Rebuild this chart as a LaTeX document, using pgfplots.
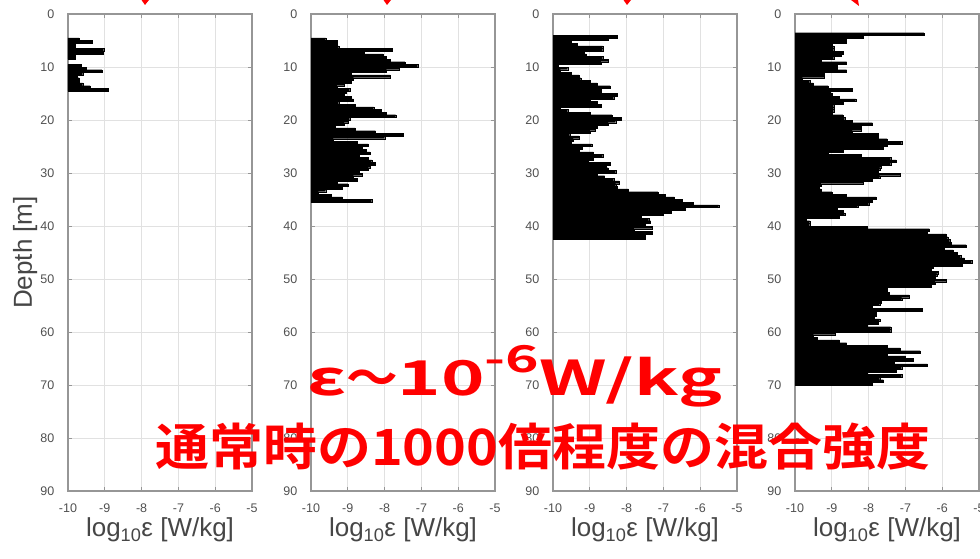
\documentclass[border=0pt]{standalone}
\usepackage{pgfplots}
\usepackage{pgfplotstable}
\pgfplotsset{compat=1.18}
\usepackage{fontspec}
\usepackage{graphicx}
\setmainfont{Liberation Sans}
\newfontfamily\jpfont{Noto Sans CJK JP}[BoldFont={Noto Sans CJK JP Bold}]
\definecolor{gridc}{RGB}{225,225,225}
\definecolor{axc}{RGB}{150,150,150}
\definecolor{tickc}{RGB}{80,80,80}
\definecolor{labc}{RGB}{70,70,70}
\definecolor{redc}{RGB}{255,0,0}

\pgfplotstableread{
d e
4.75 -9.7
5.25 -9.35
5.75 -9.8
6.25 -9.8
6.75 -9.03
7.25 -9.05
7.75 -9.8
8.25 -9.8
9.75 -9.65
10.25 -9.5
10.75 -9.08
11.25 -9.6
11.75 -9.75
12.25 -9.7
12.75 -9.7
13.25 -9.6
13.75 -9.4
14.25 -8.9
}\dataA

\pgfplotstableread{
d e
4.75 -9.6
5.25 -9.3
5.75 -9.3
6.25 -9.25
6.75 -7.8
7.25 -8.55
7.75 -8.05
8.25 -7.95
8.75 -7.85
9.25 -7.45
9.75 -7.1
10.25 -7.6
10.75 -7.95
11.25 -8.9
11.75 -7.85
12.25 -8.85
12.75 -8.9
13.25 -9.1
13.75 -9.3
14.25 -8.95
14.75 -9.05
15.25 -9.1
15.75 -8.9
16.25 -8.85
16.75 -9.25
17.25 -8.8
17.75 -8.3
18.25 -8.1
18.75 -7.95
19.25 -7.7
19.75 -8.95
20.25 -9.0
20.75 -9.1
21.25 -9.35
21.75 -8.8
22.25 -8.25
22.75 -7.5
23.25 -8.0
23.75 -9.4
24.25 -8.75
24.75 -8.45
25.25 -8.6
25.75 -8.5
26.25 -8.4
26.75 -8.7
27.25 -8.45
27.75 -8.35
28.25 -8.25
28.75 -8.4
29.25 -8.45
29.75 -8.7
30.25 -8.6
30.75 -8.85
31.25 -8.75
31.75 -9.3
32.25 -9.0
32.75 -9.15
33.25 -9.6
33.75 -9.8
34.25 -9.45
34.75 -9.15
35.25 -8.35
}\dataB

\pgfplotstableread{
d e
4.25 -8.25
4.75 -8.5
5.25 -9.5
5.75 -9.35
6.25 -8.65
6.75 -8.65
7.25 -9.15
7.75 -9.1
8.25 -8.65
8.75 -8.5
9.25 -8.7
9.75 -9.85
10.25 -9.6
10.75 -9.8
11.25 -9.5
11.75 -9.3
12.25 -9.25
12.75 -9.0
13.25 -8.8
13.75 -8.45
14.25 -8.7
14.75 -8.7
15.25 -8.25
15.75 -8.35
16.25 -9.0
16.75 -8.8
17.25 -8.7
17.75 -9.8
18.25 -9.6
18.75 -9.0
19.25 -8.4
19.75 -8.15
20.25 -8.3
20.75 -8.5
21.25 -8.8
21.75 -8.85
22.25 -9.0
22.75 -9.55
23.25 -9.3
23.75 -9.45
24.25 -9.5
24.75 -8.95
25.25 -9.2
25.75 -9.3
26.25 -8.9
26.75 -8.65
27.25 -8.9
27.75 -9.05
28.25 -8.45
28.75 -8.55
29.25 -8.5
29.75 -8.3
30.25 -8.8
30.75 -8.6
31.25 -8.35
31.75 -8.2
32.25 -8.3
32.75 -8.25
33.25 -7.95
33.75 -7.15
34.25 -6.95
34.75 -6.7
35.25 -6.5
35.75 -6.2
36.25 -5.5
36.75 -6.4
37.25 -6.8
37.75 -7.0
38.25 -7.6
38.75 -7.4
39.25 -7.35
39.75 -7.5
40.25 -7.3
40.75 -7.8
41.25 -7.3
41.75 -7.5
42.25 -7.5
}\dataC

\pgfplotstableread{
d e
3.75 -6.5
4.25 -8.15
4.75 -8.6
5.25 -8.6
5.75 -9.0
6.25 -8.95
6.75 -8.95
7.25 -8.7
7.75 -8.75
8.25 -8.95
8.75 -9.3
9.25 -8.6
9.75 -8.85
10.25 -8.85
10.75 -8.6
11.25 -9.2
11.75 -9.2
12.25 -9.8
12.75 -9.6
13.25 -9.5
13.75 -9.1
14.25 -8.45
14.75 -9.05
15.25 -9.0
15.75 -8.8
16.25 -8.35
16.75 -8.7
17.25 -8.95
17.75 -8.95
18.25 -8.95
18.75 -9.0
19.25 -8.7
19.75 -8.65
20.25 -8.45
20.75 -7.9
21.25 -8.2
21.75 -8.2
22.25 -8.45
22.75 -7.75
23.25 -7.75
23.75 -7.5
24.25 -7.1
24.75 -7.5
25.25 -7.6
25.75 -8.7
26.25 -9.1
26.75 -8.2
27.25 -7.4
27.75 -7.25
28.25 -7.4
28.75 -7.65
29.25 -7.7
29.75 -7.75
30.25 -7.15
30.75 -7.7
31.25 -7.9
31.75 -8.15
32.25 -9.3
32.75 -9.35
33.25 -9.3
33.75 -9.0
34.25 -8.6
34.75 -7.8
35.25 -7.9
35.75 -8.0
36.25 -8.3
36.75 -8.85
37.25 -8.7
37.75 -8.65
38.25 -8.8
38.75 -9.7
39.25 -9.6
39.75 -9.6
40.25 -8.05
40.75 -6.35
41.25 -6.4
41.75 -5.9
42.25 -5.85
42.75 -5.8
43.25 -5.75
43.75 -5.35
44.25 -5.95
44.75 -5.7
45.25 -5.6
45.75 -5.5
46.25 -5.4
46.75 -5.2
47.25 -5.45
47.75 -6.25
48.25 -6.3
48.75 -6.1
49.25 -6.15
49.75 -6.2
50.25 -5.9
50.75 -6.2
51.25 -6.3
51.75 -7.5
52.25 -7.5
52.75 -7.45
53.25 -6.9
53.75 -7.1
54.25 -7.65
54.75 -7.7
55.25 -7.9
55.75 -6.55
56.25 -7.8
56.75 -7.8
57.25 -7.85
57.75 -7.7
58.25 -7.75
58.75 -8.05
59.25 -7.4
59.75 -7.4
60.25 -8.9
60.75 -9.5
61.25 -9.4
61.75 -8.8
62.25 -8.6
62.75 -7.5
63.25 -7.15
63.75 -6.6
64.25 -7.5
64.75 -7.0
65.25 -6.8
65.75 -7.3
66.25 -6.4
66.75 -7.1
67.25 -7.25
67.75 -8.05
68.25 -7.1
68.75 -7.7
69.25 -7.6
69.75 -7.9
}\dataD

\pgfplotsset{
  /pgf/number format/assume math mode=true,
  panel/.style={
    width=184pt, height=477pt, scale only axis,
    anchor=south west,
    xmin=0, xmax=5, ymin=0, ymax=90, y dir=reverse,
    xtick={0,1,2,3,4,5}, xticklabels={-10,-9,-8,-7,-6,-5},
    ytick={0,10,...,90},
    tick align=inside, major tick length=4pt,
    grid=major, major grid style={line width=0.7pt, draw=gridc},
    axis line style={draw=axc, line width=1.3pt},
    tick style={draw=axc, line width=0.8pt},
    ticklabel style={font=\fontsize{12.5}{12.5}\selectfont, text=tickc, inner sep=0pt},
    xticklabel style={yshift=-13pt},
    yticklabel style={xshift=-13.5pt},
    xlabel={log\textsubscript{10}ε [W/kg]},
    xlabel style={font=\fontsize{26}{26}\selectfont, text=labc, inner sep=0pt,
      at={(axis description cs:0.5,-0.0964)}, anchor=base},
    ylabel style={font=\fontsize{26}{26}\selectfont, text=labc, inner sep=0pt,
      at={(axis description cs:-0.196,0.5)}, anchor=base, rotate=0},
  },
  barplot/.style={xbar, bar width=0.5, fill=black, draw=black, line width=0.1pt},
}

\begin{document}
\begin{tikzpicture}
\useasboundingbox (0pt,0pt) rectangle (980pt,558pt);

\begin{axis}[panel, at={(68pt,67pt)}, ylabel={Depth [m]}]
\addplot[barplot] table[x expr=\thisrow{e}+10, y=d] {\dataA};
\end{axis}

\begin{axis}[panel, at={(311pt,67pt)}]
\addplot[barplot] table[x expr=\thisrow{e}+10, y=d] {\dataB};
\end{axis}

\begin{axis}[panel, at={(553pt,67pt)}]
\addplot[barplot] table[x expr=\thisrow{e}+10, y=d] {\dataC};
\end{axis}

\begin{axis}[panel, at={(795pt,67pt)}]
\addplot[barplot] table[x expr=\thisrow{e}+10, y=d] {\dataD};
\end{axis}

% red arrow tips cut at the top
\fill[redc] (141.5pt,558pt) -- (149pt,558pt) -- (145pt,553pt) -- cycle;
\fill[redc] (383.5pt,558pt) -- (391pt,558pt) -- (387pt,553pt) -- cycle;
\fill[redc] (623.5pt,558pt) -- (631pt,558pt) -- (627pt,553pt) -- cycle;
\fill[redc] (851pt,558pt) -- (858pt,558pt) -- (859pt,552pt) -- cycle;

% red annotation
\node[anchor=base west, inner sep=0pt, text=redc] at (307pt,163pt)
  {\resizebox{415pt}{\height}{\jpfont\bfseries\fontsize{48}{48}\selectfont ε\scalebox{0.7}[1]{～}10\raisebox{23pt}{\fontsize{37}{37}\selectfont -6}W/kg}};
\node[anchor=base west, inner sep=0pt, text=redc] at (155pt,93pt)
  {\resizebox{775pt}{\height}{\jpfont\bfseries\fontsize{50}{50}\selectfont 通常時の1000倍程度の混合強度}};
\end{tikzpicture}
\end{document}
